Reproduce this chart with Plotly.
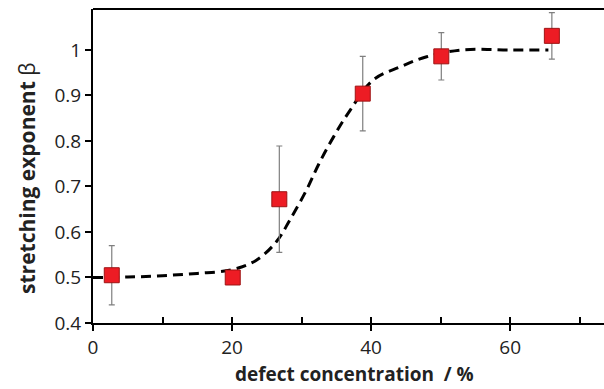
import plotly.graph_objects as go

# measured points
conc = [2.7, 20.1, 26.8, 38.8, 50.1, 66.0]
beta = [0.505, 0.500, 0.672, 0.904, 0.986, 1.031]
beta_err = [0.065, 0.0, 0.117, 0.082, 0.052, 0.051]

# dashed fit curve
fit_x = [0, 5, 10, 15, 20, 23.5, 26.4, 28.3, 30.7, 32.5, 34.6, 37.0, 40.3, 44.2, 48.0, 53.0, 60.0, 65.5]
fit_y = [0.500, 0.501, 0.504, 0.509, 0.517, 0.538, 0.579, 0.626, 0.692, 0.750, 0.809, 0.868, 0.934,
         0.963, 0.985, 1.000, 1.000, 1.000]

x_ticks = [0, 20, 40, 60]
y_ticks = [0.4, 0.5, 0.6, 0.7, 0.8, 0.9, 1.0]
y_tick_text = ["0.4", "0.5", "0.6", "0.7", "0.8", "0.9", "1"]

FONT = "Open Sans"
XMAX = 73.5

fig = go.Figure()
fig.add_trace(go.Scatter(
    x=fit_x, y=fit_y, mode="lines", line=dict(color="black", width=3, dash="10px,6px", shape="spline"),
    showlegend=False, hoverinfo="skip"))
fig.add_trace(go.Scatter(
    x=conc, y=beta, mode="markers",
    marker=dict(symbol="square", size=15, color="#ed1c24", line=dict(color="#9e1414", width=1)),
    error_y=dict(type="data", array=beta_err, visible=True, color="#7f7f7f", thickness=1.2, width=3),
    showlegend=False))
# inside-tick overlay axis to mimic crossing ticks
fig.add_trace(go.Scatter(x=[None], y=[None], xaxis="x2", yaxis="y2", showlegend=False))

fig.update_layout(
    width=604, height=389,
    margin=dict(l=93, r=0, t=9, b=66),
    paper_bgcolor="white", plot_bgcolor="white",
    font=dict(family=FONT, color="#222222"),
    xaxis=dict(range=[0, XMAX], tickvals=x_ticks, ticks="outside", ticklen=6, tickwidth=2, tickcolor="black",
               showline=True, linecolor="black", linewidth=2, mirror=False, showgrid=False, zeroline=False,
               tickfont=dict(size=19, family=FONT)),
    xaxis2=dict(range=[0, XMAX], overlaying="x", anchor="y2", side="bottom", dtick=10, tick0=0,
                ticks="inside", ticklen=6, tickwidth=2, tickcolor="black", showticklabels=False,
                showgrid=False, zeroline=False, showline=False),
    yaxis=dict(range=[0.4, 1.09], tickvals=y_ticks, ticktext=y_tick_text, ticks="outside", ticklen=6,
               tickwidth=2, tickcolor="black", showline=True, linecolor="black", linewidth=2, mirror=False,
               showgrid=False, zeroline=False, tickfont=dict(size=19, family=FONT)),
    yaxis2=dict(range=[0.4, 1.09], overlaying="y", anchor="x2", showline=False, showgrid=False,
                zeroline=False, showticklabels=False, ticks=""),
    shapes=[dict(type="line", xref="paper", yref="paper", x0=0, x1=1, y0=1, y1=1,
                 line=dict(color="black", width=2))],
    annotations=[
        dict(text="<b>defect concentration \u00a0/ %</b>", xref="paper", yref="paper", x=0.512, y=-0.162,
             xanchor="center", yanchor="middle", showarrow=False, font=dict(size=19, family=FONT)),
        dict(text="<b>stretching exponent</b> \u03b2", xref="paper", yref="paper", x=-0.129, y=0.459,
             xanchor="center", yanchor="middle", textangle=-90, showarrow=False,
             font=dict(size=21, family=FONT)),
    ],
)
fig.write_html("out.html")
